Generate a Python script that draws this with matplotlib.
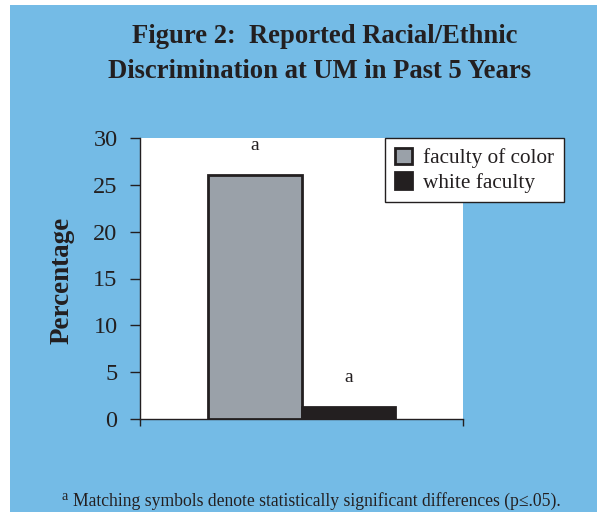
import matplotlib
matplotlib.use("Agg")
import matplotlib.pyplot as plt
from matplotlib.patches import Rectangle

# Data
groups = ["faculty of color", "white faculty"]
values = [26.1, 1.3]
sig_marks = ["a", "a"]
yticks = [0, 5, 10, 15, 20, 25, 30]

bg_blue = "#74BBE6"
bar_colors = ["#9AA1A9", "#231F20"]
ink = "#231F20"

plt.rcParams["font.family"] = ["Liberation Serif", "DejaVu Serif"]

W, H = 597, 512
fig = plt.figure(figsize=(W / 100, H / 100), dpi=100)
fig.patch.set_facecolor("white")
fig.patches.append(Rectangle((10 / W, 0), 1 - 10 / W, 1 - 5 / H,
                             transform=fig.transFigure, facecolor=bg_blue,
                             edgecolor="none", zorder=-10))

ax = fig.add_axes([140 / W, 1 - 419 / H, 323 / W, 281 / H])
ax.set_facecolor("white")

width = 0.29
offsets = [-width / 2, width / 2]
for name, val, col, off in zip(groups, values, bar_colors, offsets):
    ax.bar(off, val, width=width, color=col, edgecolor=ink, linewidth=2,
           label=name, zorder=3)

for val, mark, off in zip(values, sig_marks, offsets):
    ax.text(off, val + 2.2, mark, ha="center", va="bottom", fontsize=14,
            color=ink)

ax.set_xlim(-0.5, 0.5)
ax.set_ylim(0, 30)
ax.set_yticks(yticks)
ax.set_yticklabels([str(t) for t in yticks], fontsize=17.5, color=ink)
ax.set_xticks([-0.5, 0.5])
ax.set_xticklabels([])
ax.tick_params(axis="y", direction="out", length=7.2, width=1, color=ink, pad=9)
ax.tick_params(axis="x", direction="out", length=5, width=1, color=ink)

for side in ["top", "right"]:
    ax.spines[side].set_visible(False)
for side in ["left", "bottom"]:
    ax.spines[side].set_color(ink)
    ax.spines[side].set_linewidth(1)

fig.text(62 / W, 1 - 280 / H, "Percentage", rotation=90, ha="center",
         va="center", fontsize=19.5, fontweight="bold", color=ink)

leg = ax.legend(loc="upper left", bbox_to_anchor=(385 / W, 1 - 138 / H),
                bbox_transform=fig.transFigure, borderaxespad=0,
                fontsize=15.3, frameon=True, fancybox=False, framealpha=1,
                edgecolor=ink, handlelength=0.8, handleheight=0.8,
                handletextpad=0.55, labelspacing=0.2, borderpad=0.45)
leg.get_frame().set_linewidth(1)
for t in leg.get_texts():
    t.set_color(ink)

fig.text(325 / W, 1 - 43 / H, "Figure 2:  Reported Racial/Ethnic",
         ha="center", va="baseline", fontsize=19.2, fontweight="bold",
         color=ink)
fig.text(320 / W, 1 - 78 / H, "Discrimination at UM in Past 5 Years",
         ha="center", va="baseline", fontsize=19.2, fontweight="bold",
         color=ink)

fig.text(62 / W, 1 - 500 / H, "a", ha="left", va="baseline", fontsize=10,
         color=ink)
fig.text(73 / W, 1 - 506 / H,
         "Matching symbols denote statistically significant differences (p≤.05).",
         ha="left", va="baseline", fontsize=12.7, color=ink)

fig.savefig("out.png", dpi=100, facecolor=fig.get_facecolor())
